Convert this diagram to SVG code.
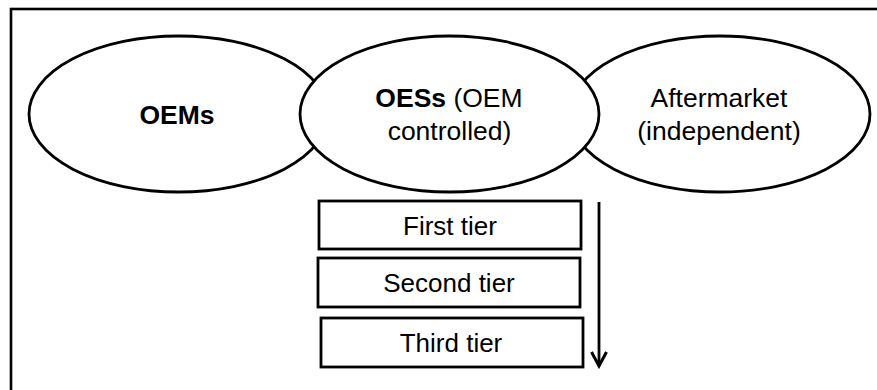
<svg xmlns="http://www.w3.org/2000/svg" width="877" height="390" viewBox="0 0 877 390">
  <defs>
    <style>
      .frame { fill: #ffffff; stroke: #000000; stroke-width: 2.6; }
      .oval { fill: #ffffff; stroke: #000000; stroke-width: 2.8; }
      .tier { fill: #ffffff; stroke: #000000; stroke-width: 2.8; }
      .lbl { font-family: "Liberation Sans", Arial, sans-serif; font-size: 26px; fill: #000000; text-anchor: middle; }
      .big { font-size: 26.5px; }
      .b { font-weight: bold; }
      .flow { stroke: #000000; stroke-width: 2.8; fill: none; }
    </style>
    <marker id="head" markerWidth="18" markerHeight="18" refX="15" refY="9" orient="auto" markerUnits="userSpaceOnUse" viewBox="0 0 18 18">
      <path d="M1,1.5 L15,9 L1,16.5" fill="none" stroke="#000000" stroke-width="3"/>
    </marker>
  </defs>

  <!-- outer frame -->
  <rect class="frame" x="11" y="9" width="890" height="400"/>

  <!-- supplier groups -->
  <g id="oems">
    <ellipse class="oval" cx="178.5" cy="114" rx="149.5" ry="78"/>
    <text class="lbl big b" x="177" y="124">OEMs</text>
  </g>
  <g id="aftermarket">
    <ellipse class="oval" cx="720" cy="114" rx="150" ry="78"/>
    <text class="lbl big" x="719" y="107">Aftermarket</text>
    <text class="lbl big" x="719" y="140">(independent)</text>
  </g>
  <g id="oess">
    <ellipse class="oval" cx="449.5" cy="114" rx="149.5" ry="78"/>
    <text class="lbl big" x="449" y="107"><tspan class="b">OESs</tspan> (OEM</text>
    <text class="lbl big" x="449.5" y="140">controlled)</text>
  </g>

  <!-- tiers -->
  <g id="tier1">
    <rect class="tier" x="319" y="201" width="262" height="48"/>
    <text class="lbl" x="450" y="235">First tier</text>
  </g>
  <g id="tier2">
    <rect class="tier" x="318" y="258" width="262" height="49"/>
    <text class="lbl" x="449" y="292">Second tier</text>
  </g>
  <g id="tier3">
    <rect class="tier" x="321" y="318" width="262" height="49"/>
    <text class="lbl" x="451" y="352">Third tier</text>
  </g>

  <!-- connectors -->
  <g id="connectors">
    <line class="flow" x1="599" y1="202" x2="599" y2="366" marker-end="url(#head)"/>
  </g>
</svg>
